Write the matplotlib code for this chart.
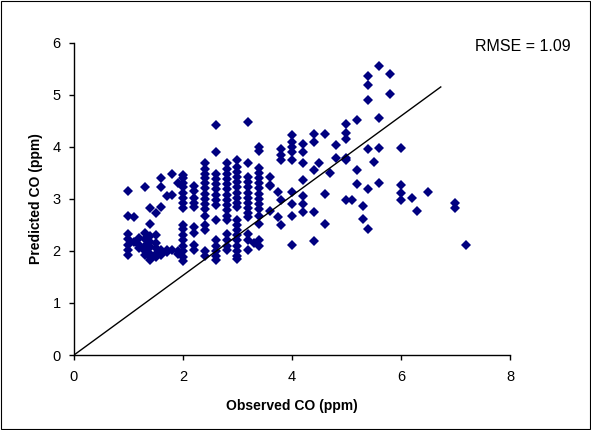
import matplotlib
matplotlib.use('Agg')
import matplotlib.pyplot as plt
from matplotlib.patches import Rectangle

plt.rcParams['font.family'] = ['Liberation Sans', 'DejaVu Sans']

# observed / predicted CO
obs_co = (
    [1.0] * 7 + [1.1] * 2 + [1.2] * 3 + [1.3] * 6 + [1.4] * 8 + [1.5] * 6 +
    [1.6] * 5 + [1.7] * 3 + [1.8] * 3 + [1.9] * 3 + [2.0] * 16 + [2.2] * 9 +
    [2.4] * 15 + [2.6] * 15 + [2.8] * 16 + [3.0] * 19 + [3.2] * 14 + [3.3] * 1 +
    [3.4] * 15 + [3.6] * 4 + [3.75] * 2 + [3.8] * 5 + [4.0] * 9 + [4.2] * 7 +
    [4.4] * 5 + [4.5] * 1 + [4.6] * 3 + [4.7] * 1 + [4.8] * 2 + [5.0] * 6 +
    [5.1] * 1 + [5.2] * 3 + [5.3] * 2 + [5.4] * 6 + [5.5] * 1 + [5.6] * 4 +
    [5.8] * 2 + [6.0] * 4 + [6.2] * 1 + [6.3] * 1 + [6.5] * 1 + [7.0] * 2 +
    [7.2] * 1
)
pred_co = [
    3.15, 2.68, 2.32, 2.22, 2.12, 2.02, 1.93,
    2.65, 2.18,
    2.25, 2.12, 2.05,
    3.22, 2.35, 2.22, 2.10, 2.00, 1.92,
    2.82, 2.52, 2.28, 2.18, 2.08, 1.95, 1.88, 1.82,
    2.72, 2.30, 2.15, 2.05, 1.95, 1.88,
    3.40, 3.22, 2.85, 2.02, 1.92,
    3.05, 2.02, 1.98,
    3.47, 3.08, 2.02,
    3.30, 2.00, 1.95,
    3.45, 3.40, 3.30, 3.22, 3.12, 3.02, 2.92, 2.82, 2.50, 2.42, 2.30, 2.20, 2.10, 2.00, 1.88, 1.80,
    3.25, 3.15, 3.02, 2.92, 2.85, 2.45, 2.35, 2.12, 2.02,
    3.68, 3.58, 3.48, 3.40, 3.30, 3.20, 3.10, 3.00, 2.90, 2.80, 2.68, 2.50, 2.40, 2.00, 1.90,
    4.42, 3.90, 3.48, 3.38, 3.28, 3.18, 3.08, 2.98, 2.88, 2.60, 2.20, 2.10, 2.00, 1.90, 1.82,
    3.68, 3.58, 3.48, 3.38, 3.28, 3.18, 3.08, 2.98, 2.88, 2.78, 2.68, 2.60, 2.32, 2.20, 2.10, 2.02,
    3.74, 3.62, 3.52, 3.42, 3.32, 3.22, 3.12, 3.02, 2.92, 2.84, 2.60, 2.50, 2.40, 2.30, 2.20, 2.10, 2.00, 1.90, 1.84,
    4.47, 3.68, 3.42, 3.32, 3.22, 3.12, 3.02, 2.92, 2.82, 2.72, 2.65, 2.32, 2.21, 2.02,
    2.16,
    4.00, 3.92, 3.60, 3.50, 3.40, 3.30, 3.20, 3.10, 3.00, 2.90, 2.80, 2.68, 2.52, 2.20, 2.10,
    3.42, 3.26, 3.24, 2.77,
    3.14, 2.66,
    3.95, 3.84, 3.74, 2.98, 2.50,
    4.22, 4.10, 4.00, 3.90, 3.74, 3.14, 2.91, 2.67, 2.11,
    4.06, 3.90, 3.68, 3.37, 3.05, 2.91, 2.74,
    4.25, 4.10, 3.56, 2.74, 2.19,
    3.68,
    4.25, 3.09, 2.52,
    3.50,
    4.04, 3.78,
    4.44, 4.27, 4.15, 3.79, 3.74, 2.98,
    2.98,
    4.52, 3.56, 3.29,
    2.87, 2.62,
    5.36, 5.19, 4.89, 3.95, 3.19, 2.43,
    3.70,
    5.55, 4.55, 3.97, 3.30,
    5.39, 5.01,
    3.97, 3.27, 3.12, 2.98,
    3.02,
    2.76,
    3.13,
    2.92, 2.83,
    2.11,
]

# fitted line drawn on the chart
line_x = [0, 6.73]
line_y = [0, 5.15]
rmse_text = 'RMSE = 1.09'

fig = plt.figure(figsize=(5.91, 4.30), dpi=100)
ax = fig.add_axes([0.1252, 0.1744, 0.7377, 0.7263])

ax.plot(obs_co, pred_co, linestyle='none', marker='D', markersize=4.8,
        color='#000080', markeredgewidth=0)
ax.plot(line_x, line_y, color='black', linewidth=1.0)

ax.set_xlim(0, 8)
ax.set_ylim(0, 6)
ax.set_xticks([0, 2, 4, 6, 8])
ax.set_yticks([0, 1, 2, 3, 4, 5, 6])
ax.spines['top'].set_visible(False)
ax.spines['right'].set_visible(False)
ax.spines['left'].set_linewidth(1.0)
ax.spines['bottom'].set_linewidth(1.0)
ax.tick_params(axis='x', direction='out', length=3.5, width=1.0, labelsize=10.5, pad=7)
ax.tick_params(axis='y', direction='out', length=3.5, width=1.0, labelsize=10.5, pad=6)

ax.set_xlabel('Observed CO (ppm)', fontsize=10, fontweight='bold', labelpad=11)
ax.set_ylabel('Predicted CO (ppm)', fontsize=10, fontweight='bold', labelpad=7)

fig.text(0.885, 0.892, rmse_text, fontsize=11.5, ha='center', va='center')

fig.patches.append(Rectangle((0.002, 0.002), 0.996, 0.996, transform=fig.transFigure,
                             fill=False, edgecolor='black', linewidth=0.8))

fig.savefig('out.png', dpi=100)
